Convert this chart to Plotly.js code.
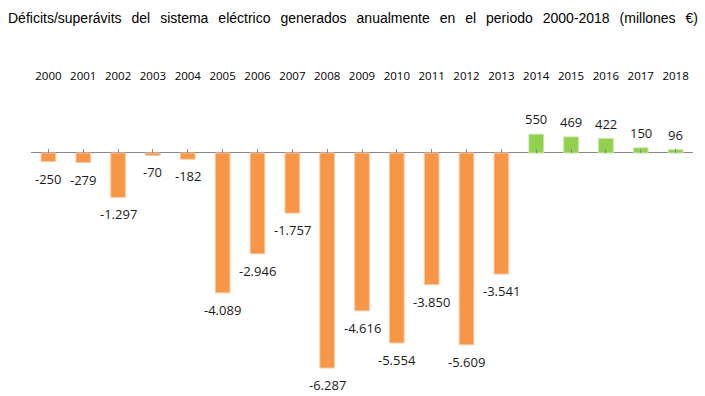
<!DOCTYPE html>
<html>
<head>
<meta charset="utf-8">
<script src="https://cdn.plot.ly/plotly-3.0.1.min.js"></script>
<style>html,body{margin:0;padding:0;background:#fff;}#chart{width:705px;height:396px;}</style>
</head>
<body>
<div id="chart"></div>
<script>
const years = ['2000','2001','2002','2003','2004','2005','2006','2007','2008','2009','2010','2011','2012','2013','2014','2015','2016','2017','2018'];
const values = [-250,-279,-1297,-70,-182,-4089,-2946,-1757,-6287,-4616,-5554,-3850,-5609,-3541,550,469,422,150,96];
const titleText = 'Déficits/superávits del sistema eléctrico generados anualmente en el periodo 2000-2018 (millones €)';

const NEG = '#F79646', POS = '#92D050';
const colors = values.map(v => v < 0 ? NEG : POS);
const lineColors = values.map(v => v < 0 ? '#FBC9A0' : '#C4E6A0');

function fmt(v){
  const s = Math.abs(v).toString().replace(/\B(?=(\d{3})+(?!\d))/g, '.');
  return (v < 0 ? '-' : '') + s;
}

const yMin = -6784, yMax = 1988;

const traces = [
  {
    type: 'bar', x: years, y: values,
    marker: {color: colors, line: {color: lineColors, width: 1}},
    width: 0.42, hoverinfo: 'skip', xaxis: 'x', yaxis: 'y'
  },
  {
    type: 'scatter', x: years, y: values.map(() => null), xaxis: 'x2', yaxis: 'y',
    mode: 'markers', showlegend: false, hoverinfo: 'skip'
  }
];

const annotations = values.map((v, i) => ({
  x: i, y: v, xref: 'x', yref: 'y',
  text: fmt(v), showarrow: false,
  yshift: v < 0 ? -17 : 15,
  font: {family: 'Open Sans, sans-serif', size: 13, color: '#1a1a1a'}
}));

const layout = {
  width: 705, height: 396,
  margin: {l: 31, r: 12, t: 85, b: 11},
  paper_bgcolor: '#fff', plot_bgcolor: '#fff',
  showlegend: false,
  title: {
    text: titleText, x: 8 / 705, xanchor: 'left', xref: 'container', y: 0.955, yanchor: 'middle', yref: 'container',
    font: {family: 'Liberation Sans Narrow, Arial Narrow, Liberation Sans, sans-serif', size: 14, color: '#000'}
  },
  annotations: annotations,
  xaxis: {
    type: 'category', range: [-0.5, 18.5], anchor: 'free',
    position: (0 - yMin) / (yMax - yMin),
    side: 'top', showline: false, showticklabels: false,
    ticks: 'outside', ticklen: 4, tickcolor: '#888', tickwidth: 1,
    showgrid: false, zeroline: false, fixedrange: true
  },
  xaxis2: {
    type: 'category', range: [-0.5, 18.5], overlaying: 'x', anchor: 'free', position: 1,
    side: 'top', showline: false, ticks: '', showgrid: false, zeroline: false,
    ticklabelstandoff: 3,
    tickvals: years, ticktext: years,
    tickfont: {family: 'Open Sans, sans-serif', size: 11.5, color: '#000'}
  },
  yaxis: {
    range: [yMin, yMax], showgrid: false, showticklabels: false, ticks: '',
    zeroline: true, zerolinecolor: '#888', zerolinewidth: 1, showline: false, fixedrange: true
  }
};

Plotly.newPlot('chart', traces, layout, {displayModeBar: false, staticPlot: true}).then(() => {
  const t = document.querySelector('.gtitle');
  if (t) {
    const w = t.getComputedTextLength();
    const spaces = (titleText.match(/ /g) || []).length;
    const target = 690;
    const ws = Math.max(0, (target - w) / spaces);
    t.setAttribute('word-spacing', ws.toFixed(2) + 'px');
    t.style.wordSpacing = ws.toFixed(2) + 'px';
  }
});
</script>
</body>
</html>
